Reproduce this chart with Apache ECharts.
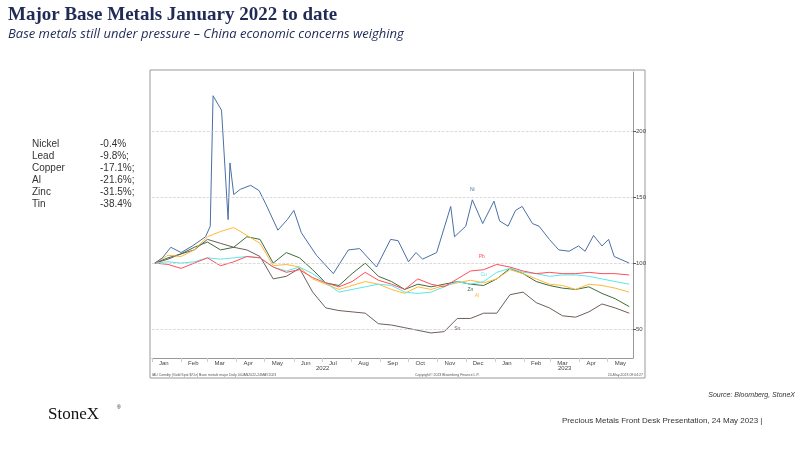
<!DOCTYPE html>
<html><head><meta charset="utf-8">
<script src="https://cdn.jsdelivr.net/npm/echarts@6/dist/echarts.min.js"></script>
<style>html,body{margin:0;padding:0;background:#fff}#c{width:800px;height:450px}</style>
</head><body><div id="c"></div>
<script>
const gridDates = ["2022-01-04","2022-01-18","2022-02-01","2022-02-15","2022-03-01","2022-03-15","2022-03-29","2022-04-12","2022-04-26","2022-05-10","2022-05-24","2022-06-07","2022-06-21","2022-07-05","2022-07-19","2022-08-02","2022-08-16","2022-08-30","2022-09-13","2022-09-27","2022-10-11","2022-10-25","2022-11-08","2022-11-22","2022-12-06","2022-12-20","2023-01-03","2023-01-17","2023-01-31","2023-02-14","2023-02-28","2023-03-14","2023-03-28","2023-04-11","2023-04-25","2023-05-09","2023-05-24"];
const leadValues = [100,99,96,100,104,98,101,105,104,97,93,95,89,85,82,86,93,87,84,80,88,84,82,88,94,95,99,97,94,92,93,92,92,93,92,92,91];
const copperValues = [100,101,100,101,104,103,104,105,104,97,94,97,92,85,78,80,82,84,83,78,77,78,82,86,84,86,93,96,93,92,90,91,91,90,88,86,84];
const alValues = [100,106,105,110,120,124,127,121,115,98,99,97,88,84,80,83,86,84,80,77,82,80,83,85,87,85,88,95,92,88,84,83,80,84,83,81,78];
const zincValues = [100,104,107,112,116,110,112,120,118,100,108,104,95,85,83,92,100,90,86,80,84,82,84,86,84,83,88,96,92,86,83,81,80,82,77,73,67];
const tinValues = [100,103,107,110,118,115,112,110,105,88,90,96,78,66,64,63,62,54,53,51,49,47,48,58,58,62,62,76,78,70,66,60,59,63,69,66,62];
const nickelDates = ["2022-01-04","2022-01-12","2022-01-21","2022-02-01","2022-02-13","2022-02-27","2022-03-04","2022-03-07","2022-03-16","2022-03-23","2022-03-25","2022-03-29","2022-04-05","2022-04-16","2022-04-25","2022-05-02","2022-05-15","2022-05-25","2022-06-01","2022-06-09","2022-06-25","2022-07-13","2022-07-29","2022-08-10","2022-08-28","2022-09-12","2022-09-20","2022-10-01","2022-10-09","2022-10-16","2022-10-31","2022-11-15","2022-11-19","2022-12-01","2022-12-08","2022-12-19","2022-12-31","2023-01-06","2023-01-15","2023-01-23","2023-01-30","2023-02-10","2023-02-17","2023-02-28","2023-03-10","2023-03-21","2023-03-31","2023-04-07","2023-04-16","2023-04-25","2023-05-02","2023-05-08","2023-05-24"];
const nickelValues = [100,104,112,108,113,120,128,227,216,133,176,152,156,159,155,145,125,133,140,123,106,92,110,111,97,118,117,101,108,103,108,143,120,128,148,130,147,132,128,140,143,130,128,118,110,109,113,109,121,113,118,105,100];
const legendNames = ["Nickel","Lead","Copper","Al","Zinc","Tin"];
const legendChanges = ["-0.4%","-9.8%;","-17.1%;","-21.6%;","-31.5%;","-38.4%"];
const yTicks = [50,100,150,200];
const monthNames = ["Jan","Feb","Mar","Apr","May","Jun","Jul","Aug","Sep","Oct","Nov","Dec"];

const zip = (d,v)=>d.map((x,i)=>[x,v[i]]);
function ser(name,color,dates,vals,lbl,lblCoord){
  return {type:'line',name,data:zip(dates,vals),showSymbol:false,symbol:'none',
    lineStyle:{color,width:1},itemStyle:{color},z:name==='Ni'?3:2,
    markPoint:{symbol:'circle',symbolSize:0,data:[{coord:lblCoord,label:{show:true,formatter:lbl,color,fontSize:5,fontFamily:'Arial'}}]}};
}
const chart = echarts.init(document.getElementById('c'),null,{renderer:'canvas'});
const g=[];
g.push({type:'rect',shape:{x:150,y:70,width:495,height:308},style:{fill:'none',stroke:'#999',lineWidth:1}});
g.push({type:'text',left:8,top:6,style:{text:'Major Base Metals January 2022 to date',font:'bold 19px "Liberation Serif"',fill:'#1f2a55'}});
g.push({type:'text',left:8,top:28,style:{text:'Base metals still under pressure – China economic concerns weighing',font:'italic 13px "Open Sans"',fill:'#1f2a55'}});
legendNames.forEach((n,i)=>{
  g.push({type:'text',left:32,top:139+i*12,style:{text:n,font:'10px "Liberation Sans"',fill:'#333'}});
  g.push({type:'text',left:100,top:139+i*12,style:{text:legendChanges[i],font:'10px "Liberation Sans"',fill:'#333'}});
});
g.push({type:'text',left:152,top:373,style:{text:'IAU Comdty (Gold Spot $/Oz) Base metals major Daily 04JAN2022-24MAY2023',font:'3.5px Arial',fill:'#555'}});
g.push({type:'text',left:415,top:373,style:{text:'Copyright© 2023 Bloomberg Finance L.P.',font:'3.5px Arial',fill:'#555'}});
g.push({type:'text',right:157,top:373,style:{text:'24-May-2023 09:04:27',font:'3.5px Arial',fill:'#555',align:'right'}});
g.push({type:'text',left:316,top:365,style:{text:'2022',font:'6px Arial',fill:'#444'}});
g.push({type:'text',left:558,top:365,style:{text:'2023',font:'6px Arial',fill:'#444'}});
g.push({type:'text',right:5,top:392,style:{text:'Source: Bloomberg, StoneX',font:'italic 7px "Liberation Sans"',fill:'#333'}});
g.push({type:'text',left:48,top:406,style:{text:'StoneX',font:'17px "Liberation Serif"',fill:'#111'}});
g.push({type:'text',left:117,top:405,style:{text:'®',font:'5px Arial',fill:'#111'}});
g.push({type:'text',left:562,top:417,style:{text:'Precious Metals Front Desk Presentation, 24 May 2023 |',font:'8px "Liberation Sans"',fill:'#333'}});

chart.setOption({
  animation:false,
  grid:{left:152,right:167,top:72,bottom:92},
  xAxis:{type:'time',min:'2022-01-01',max:'2023-05-28',
    splitNumber:17,minInterval:28*864e5,
    axisLine:{lineStyle:{color:'#999'}},
    axisTick:{show:true,length:4,inside:false,lineStyle:{color:'#ccc'}},
    axisLabel:{fontSize:6,color:'#444',margin:2,align:'left',padding:[0,0,0,7],hideOverlap:false,
      formatter:v=>monthNames[new Date(v).getMonth()]},
    splitLine:{show:false}},
  yAxis:{type:'value',position:'right',min:28,max:245,
    axisLine:{show:true,lineStyle:{color:'#999'}},
    axisTick:{show:true,customValues:yTicks,length:3,lineStyle:{color:'#555'}},
    axisLabel:{customValues:yTicks,fontSize:6,color:'#444',margin:3},
    splitLine:{show:false}},
  graphic:g,
  series:[
    {type:'line',data:[],markLine:{silent:true,symbol:'none',label:{show:false},lineStyle:{color:'#ccc',type:'dashed',width:0.7},data:yTicks.map(v=>({yAxis:v}))}},
    ser('Sn','#6b5f58',gridDates,tinValues,'Sn',['2022-11-22',50]),
    ser('Zn','#3d6b3d',gridDates,zincValues,'Zn',['2022-12-06',80]),
    ser('Al','#ffb833',gridDates,alValues,'Al',['2022-12-13',75]),
    ser('Cu','#5ce6e6',gridDates,copperValues,'Cu',['2022-12-20',91]),
    ser('Pb','#ff4d5a',gridDates,leadValues,'Pb',['2022-12-18',105]),
    ser('Ni','#4a6fa5',nickelDates,nickelValues,'Ni',['2022-12-08',156])
  ]
});
</script></body></html>
